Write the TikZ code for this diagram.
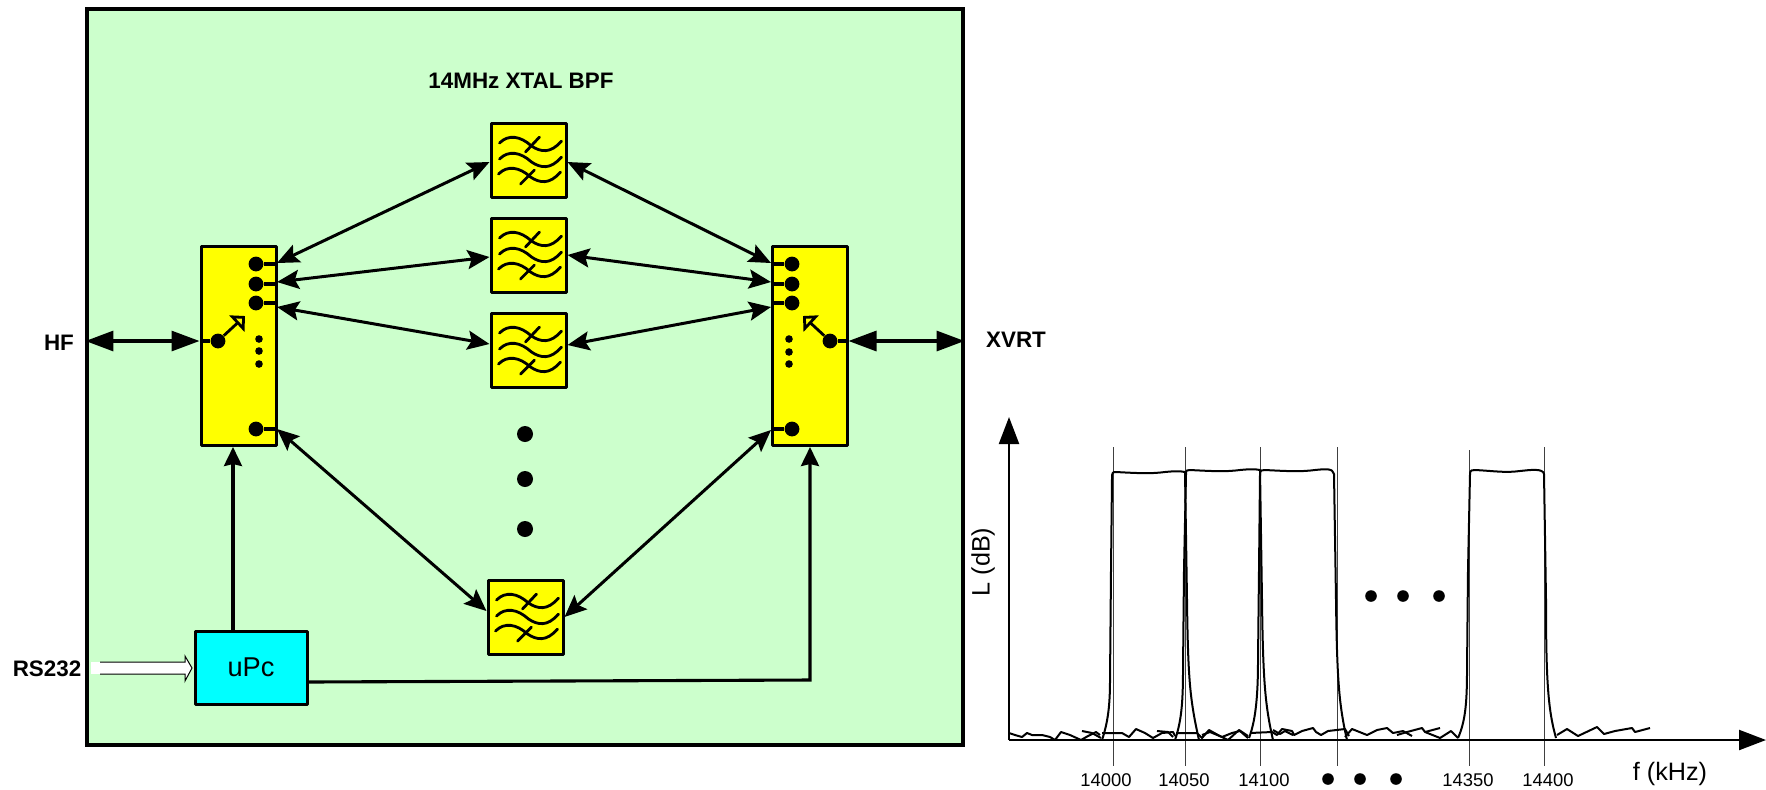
\documentclass[tikz,border=0pt]{standalone}
\usepackage{fontspec}
\setmainfont{Liberation Sans}
\usetikzlibrary{arrows.meta}
\definecolor{boardgreen}{HTML}{CCFFCC}
\definecolor{boxyellow}{HTML}{FFFF00}
\definecolor{boxcyan}{HTML}{00FFFF}
\tikzset{
	boxnode/.style={draw, line width=1.5pt, inner sep=0pt, line join=round},
	filt/.style={boxnode, fill=boxyellow, minimum width=37.5pt, minimum height=37pt},
	sw/.style={boxnode, fill=boxyellow, minimum width=37.5pt, minimum height=99.5pt},
	contact/.style={circle, fill=black, inner sep=0pt, minimum size=7.4pt},
	smalldot/.style={circle, fill=black, inner sep=0pt, minimum size=3.8pt},
	bigdot/.style={circle, fill=black, inner sep=0pt, minimum size=8pt},
	plotdot/.style={circle, fill=black, inner sep=0pt, minimum size=5.8pt},
	lbl/.style={font=\fontsize{11.2}{13}\selectfont\bfseries, inner sep=0pt},
	ticklbl/.style={font=\fontsize{9.2}{11}\selectfont, inner sep=0pt},
	axlbl/.style={font=\fontsize{12.6}{14}\selectfont, inner sep=0pt},
	arr/.style={line width=1.5pt, {Stealth[length=11pt,width=9.5pt,inset=2pt]}-{Stealth[length=11pt,width=9.5pt,inset=2pt]}},
	uparr/.style={line width=1.55pt, -{Stealth[length=9.5pt,width=9pt,inset=1pt]}},
	bigarr/.style={line width=1.55pt, {Triangle[length=14pt,width=10pt]}-{Triangle[length=14pt,width=10pt]}},
	axis/.style={line width=1.1pt, -{Triangle[length=13.5pt,width=10pt]}},
	wire/.style={line width=1.6pt},
	pointer/.style={line width=1.4pt, -{Triangle[open,fill=boxyellow,length=5.6pt,width=11pt]}},
	thinln/.style={line width=0.5pt, black!75},
	trace/.style={line width=1pt, line join=round},
}
\newcommand{\filtwaves}[1]{
	\begin{scope}[shift={(#1)}, line width=1.4pt, line cap=round]
		\draw (-29,-17) .. controls (-20,-26) and (-8,-24) .. (3,-14) .. controls (12,-8) and (22,-6) .. (33,-19);
		\draw (-29,-1) .. controls (-20,-10) and (-8,-8) .. (3,2) .. controls (12,8) and (22,10) .. (33,-3);
		\draw (-30,14) .. controls (-21,5) and (-9,7) .. (2,17) .. controls (11,23) and (21,25) .. (32,12);
		\draw (-3,-8) -- (11,-23);
		\draw (-8,24) -- (6,10);
	\end{scope}
}
\begin{document}
\begin{tikzpicture}[x=0.5pt, y=-0.5pt]
	\useasboundingbox (0,0) rectangle (1766,789);
	% board
	\node[draw, line width=1.55pt, fill=boardgreen, minimum width=438pt, minimum height=368pt, inner sep=0pt] (board) at (525,377) {};
	\node[lbl] (title) at (521,81) {14MHz XTAL BPF};
	\node[lbl] (hf) at (59,343) {HF};
	\node[lbl] (xvrt) at (1016,340) {XVRT};
	\node[lbl] (rs) at (47,669) {RS232};
	% filters
	\node[filt] (f1) at (528.5,160) {};
	\node[filt] (f2) at (528.5,255) {};
	\node[filt] (f3) at (528.5,350) {};
	\node[filt] (f4) at (525.5,617) {};
	\filtwaves{f1}
	\filtwaves{f2}
	\filtwaves{f3}
	\filtwaves{f4}
	\node[bigdot] (d1) at (525,434) {};
	\node[bigdot] (d2) at (525,479) {};
	\node[bigdot] (d3) at (525,529) {};
	% left switch
	\node[sw] (swl) at (238.5,345.5) {};
	\node[contact] (lc1) at (256,264) {};
	\node[contact] (lc2) at (256,284) {};
	\node[contact] (lc3) at (256,303) {};
	\node[contact] (lc4) at (256,429) {};
	\node[contact] (lcom) at (218,341) {};
	\node[smalldot] (ls1) at (259,339) {};
	\node[smalldot] (ls2) at (259,351) {};
	\node[smalldot] (ls3) at (259,364) {};
	\draw[wire] (lc1) -- (lc1 -| swl.east);
	\draw[wire] (lc2) -- (lc2 -| swl.east);
	\draw[wire] (lc3) -- (lc3 -| swl.east);
	\draw[wire] (lc4) -- (lc4 -| swl.east);
	\draw[wire] (lcom) -- (lcom -| swl.west);
	\coordinate (lhead) at (245,316);
	\draw[pointer] (lcom) -- (lhead);
	% right switch
	\node[sw] (swr) at (809.5,345.5) {};
	\node[contact] (rc1) at (792,264) {};
	\node[contact] (rc2) at (792,284) {};
	\node[contact] (rc3) at (792,303) {};
	\node[contact] (rc4) at (792,429) {};
	\node[contact] (rcom) at (830,341) {};
	\node[smalldot] (rs1) at (789,339) {};
	\node[smalldot] (rs2) at (789,352) {};
	\node[smalldot] (rs3) at (789,364) {};
	\draw[wire] (rc1) -- (rc1 -| swr.west);
	\draw[wire] (rc2) -- (rc2 -| swr.west);
	\draw[wire] (rc3) -- (rc3 -| swr.west);
	\draw[wire] (rc4) -- (rc4 -| swr.west);
	\draw[wire] (rcom) -- (rcom -| swr.east);
	\coordinate (rhead) at (803,316);
	\draw[pointer] (rcom) -- (rhead);
	% ports on the switches
	\coordinate (lp1) at (277,263);
	\coordinate (lp2) at (277,282);
	\coordinate (lp3) at (277,307);
	\coordinate (lp4) at (277,429);
	\coordinate (rp1) at (771,263);
	\coordinate (rp2) at (771,282);
	\coordinate (rp3) at (771,307);
	\coordinate (rp4) at (771,430);
	\draw[arr] (lp1) -- ([yshift=-1pt]f1.west);
	\draw[arr] (lp2) -- ([yshift=-1pt]f2.west);
	\draw[arr] (lp3) -- ([yshift=3pt]f3.west);
	\draw[arr] (lp4) -- ([yshift=3pt]f4.west);
	\draw[arr] (rp1) -- ([yshift=-1pt]f1.east);
	\draw[arr] (rp2) -- (f2.east);
	\draw[arr] (rp3) -- ([yshift=2.5pt]f3.east);
	\draw[arr] (rp4) -- (f4.east);
	\draw[bigarr] (board.west |- lcom) -- (lcom -| swl.west);
	\draw[bigarr] (rcom -| swr.east) -- (rcom -| board.east);
	% controller
	\node[boxnode, fill=boxcyan, minimum width=56pt, minimum height=36.5pt, font=\fontsize{13.6}{15}\selectfont] (upc) at (251,667.5) {uPc};
	\coordinate (cl) at (233,447);
	\coordinate (cr) at (810,447);
	\coordinate (crb) at (810,680);
	\coordinate (upout) at (307,682);
	\draw[uparr] (upc.north -| cl) -- (cl);
	\draw[uparr] (upout) -- (crb) -- (cr);
	\fill[white] (91,662) rectangle (100,674);
	\draw[line width=0.5pt, fill=white] (100,662) -- (185,662) -- (185,656) -- (192,668) -- (185,681) -- (185,674) -- (100,674);
	% plot
	\coordinate (org) at (1009,740);
	\coordinate (yend) at (1009,417);
	\coordinate (xend) at (1766,740);
	\draw[thinln] (1113,447) -- (1113,766);
	\draw[thinln] (1185,447) -- (1185,766);
	\draw[thinln] (1260,447) -- (1260,766);
	\draw[thinln] (1337,447) -- (1337,766);
	\draw[thinln] (1469,450) -- (1469,766);
	\draw[thinln] (1544,447) -- (1544,766);
	\draw[trace] (1102,740) .. controls (1108,722) and (1110,705) .. (1110,680) -- (1111,570) -- (1112,478) .. controls (1112,472) and (1113,472) .. (1116,472) .. controls (1135,473) and (1150,474) .. (1165,472) .. controls (1175,471) and (1180,471) .. (1185,472) -- (1187,600) .. controls (1188,680) and (1190,700) .. (1199,740);
	\draw[trace] (1175,740) .. controls (1181,722) and (1183,705) .. (1183,670) -- (1184,570) -- (1186,474) .. controls (1186,470) and (1187,470) .. (1190,470) .. controls (1210,471) and (1225,472) .. (1240,470) .. controls (1250,469) and (1255,469) .. (1260,470) -- (1262,600) .. controls (1263,680) and (1265,705) .. (1273,740);
	\draw[trace] (1249,738) .. controls (1255,722) and (1258,700) .. (1258,660) -- (1259,570) -- (1260,474) .. controls (1260,470) and (1262,470) .. (1265,470) .. controls (1285,471) and (1300,472) .. (1315,470) .. controls (1325,469) and (1333,468) .. (1334,474) -- (1336,600) .. controls (1337,680) and (1339,705) .. (1347,740);
	\draw[trace] (1458,738) .. controls (1465,722) and (1467,705) .. (1467,670) -- (1468,570) -- (1470,474) .. controls (1470,470) and (1472,470) .. (1475,470) .. controls (1495,471) and (1505,473) .. (1520,471) .. controls (1530,470) and (1543,468) .. (1544,474) -- (1546,600) .. controls (1546,680) and (1548,710) .. (1556,738);
	\draw[trace] (1009,733) -- (1015,735) -- (1022,737) -- (1027,733) -- (1032,735) -- (1042,735) -- (1050,737) -- (1055,740) -- (1061,732) -- (1070,735) -- (1081,740) -- (1088,736) -- (1096,732) -- (1100,735);
	\draw[trace] (1082,731) -- (1092,733) -- (1101,738);
	\draw[trace] (1102,733) -- (1122,733) -- (1129,737) -- (1136,729) -- (1145,733) -- (1153,738) -- (1162,733) -- (1173,732) -- (1175,736);
	\draw[trace] (1157,731) -- (1168,732) -- (1173,737);
	\draw[trace] (1176,733) -- (1197,733) -- (1202,738) -- (1209,730) -- (1218,735) -- (1228,740) -- (1239,730) -- (1248,736);
	\draw[trace] (1202,735) -- (1210,732) -- (1222,737) -- (1232,733) -- (1240,731) -- (1248,738);
	\draw[trace] (1250,733) -- (1272,732) -- (1277,735) -- (1282,729) -- (1292,731) -- (1294,735) -- (1302,731) -- (1313,728) -- (1316,732) -- (1321,735) -- (1328,731) -- (1345,729) -- (1349,736);
	\draw[trace] (1273,730) -- (1280,734) -- (1285,731) -- (1293,735);
	\draw[trace] (1345,737) -- (1352,729) -- (1367,735) -- (1377,730) -- (1387,728) -- (1393,733) -- (1403,731) -- (1412,736);
	\draw[trace] (1397,735) -- (1407,732) -- (1422,728) -- (1425,732) -- (1440,738) -- (1451,731) -- (1458,738);
	\draw[trace] (1425,732) -- (1440,728);
	\draw[trace] (1557,735) -- (1567,729) -- (1578,736) -- (1597,727) -- (1604,734) -- (1615,731) -- (1632,728) -- (1635,732) -- (1650,728);
	\draw[axis] (org) -- (yend);
	\draw[axis] (org) -- (xend);
	\node[axlbl, rotate=90] (ylab) at (983,562) {L (dB)};
	\node[axlbl] (xlab) at (1670,774) {f (kHz)};
	\node[ticklbl] (t1) at (1106,780) {14000};
	\node[ticklbl] (t2) at (1184,780) {14050};
	\node[ticklbl] (t3) at (1264,780) {14100};
	\node[ticklbl] (t4) at (1468,780) {14350};
	\node[ticklbl] (t5) at (1548,780) {14400};
	\node[plotdot] (p1) at (1328,779) {};
	\node[plotdot] (p2) at (1360,779) {};
	\node[plotdot] (p3) at (1396,779) {};
	\node[plotdot] (q1) at (1371,596) {};
	\node[plotdot] (q2) at (1403,596) {};
	\node[plotdot] (q3) at (1439,596) {};
\end{tikzpicture}
\end{document}
